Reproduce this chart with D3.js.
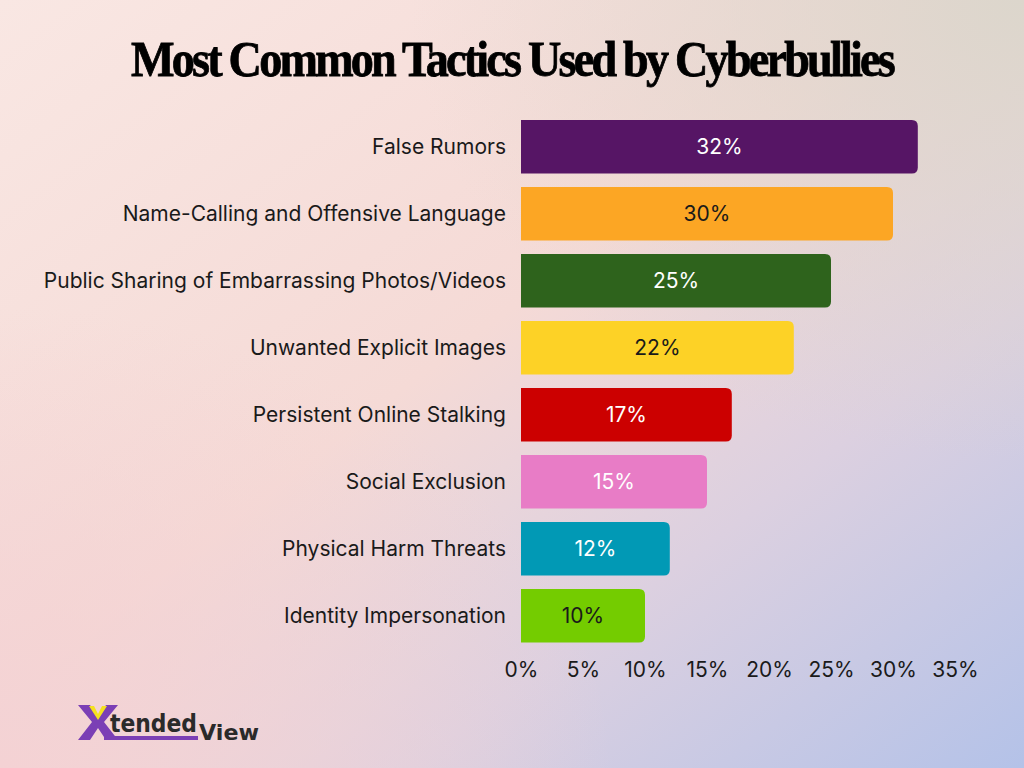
<!DOCTYPE html>
<html>
<head>
<meta charset="utf-8">
<script src="https://cdn.jsdelivr.net/npm/d3@7"></script>
<style>
  body { margin: 0; }
  svg { display: block; }
</style>
</head>
<body>
<div id="chart"></div>
<script>
// data
const tactics = [
  "False Rumors",
  "Name-Calling and Offensive Language",
  "Public Sharing of Embarrassing Photos/Videos",
  "Unwanted Explicit Images",
  "Persistent Online Stalking",
  "Social Exclusion",
  "Physical Harm Threats",
  "Identity Impersonation"
];
const shares = [32, 30, 25, 22, 17, 15, 12, 10];
const barColors = ["#561565", "#fca624", "#2e631c", "#fdd226", "#cc0000", "#e87cc6", "#0199b5", "#74cc00"];
const labelColors = ["#fff", "#1a1a1a", "#fff", "#1a1a1a", "#fff", "#fff", "#fff", "#1a1a1a"];
const ticks = [0, 5, 10, 15, 20, 25, 30, 35];

const W = 1024, H = 768;
const svg = d3.select("#chart").append("svg").attr("width", W).attr("height", H);

// background gradients
const defs = svg.append("defs");
const bg = defs.append("linearGradient").attr("id", "bg")
  .attr("x1", 0).attr("y1", 0).attr("x2", 1).attr("y2", 1);
bg.append("stop").attr("offset", 0).attr("stop-color", "#f9e7e3");
bg.append("stop").attr("offset", 0.45).attr("stop-color", "#f5dad6");
bg.append("stop").attr("offset", 0.7).attr("stop-color", "#dcd0e0");
bg.append("stop").attr("offset", 1).attr("stop-color", "#b4c2e8");
const tr = defs.append("radialGradient").attr("id", "tr")
  .attr("cx", 1).attr("cy", 0).attr("r", 0.6);
tr.append("stop").attr("offset", 0).attr("stop-color", "#dcd6cc").attr("stop-opacity", 1);
tr.append("stop").attr("offset", 1).attr("stop-color", "#dcd6cc").attr("stop-opacity", 0);
const bl = defs.append("radialGradient").attr("id", "bl")
  .attr("cx", 0).attr("cy", 1).attr("r", 0.6);
bl.append("stop").attr("offset", 0).attr("stop-color", "#f4d2d4").attr("stop-opacity", 1);
bl.append("stop").attr("offset", 1).attr("stop-color", "#f4d2d4").attr("stop-opacity", 0);

svg.append("rect").attr("width", W).attr("height", H).attr("fill", "url(#bg)");
svg.append("rect").attr("width", W).attr("height", H).attr("fill", "url(#tr)");
svg.append("rect").attr("width", W).attr("height", H).attr("fill", "url(#bl)");

// title
svg.append("text")
  .attr("x", 512).attr("y", 76)
  .attr("text-anchor", "middle")
  .attr("font-family", "'Liberation Serif', 'DejaVu Serif', serif")
  .attr("font-weight", "bold")
  .attr("font-size", 50)
  .attr("letter-spacing", -3)
  .attr("textLength", 762)
  .attr("lengthAdjust", "spacingAndGlyphs")
  .attr("fill", "#000")
  .attr("stroke", "#000")
  .attr("stroke-width", 0.8)
  .text("Most Common Tactics Used by Cyberbullies");

// scales
const x = d3.scaleLinear().domain([0, 35]).range([521, 955]);
const y = d3.scaleBand().domain(tactics).range([113.3, 649.3])
  .paddingInner(0.2).paddingOuter(0.1);

const rows = tactics.map((t, i) => ({ name: t, value: shares[i], color: barColors[i], lab: labelColors[i] }));

// bar with rounded right end only
function barPath(d) {
  const x0 = x(0), x1 = x(d.value), y0 = y(d.name), h = y.bandwidth(), r = 6;
  return `M${x0},${y0} H${x1 - r} Q${x1},${y0} ${x1},${y0 + r} V${y0 + h - r} Q${x1},${y0 + h} ${x1 - r},${y0 + h} H${x0} Z`;
}

const g = svg.append("g");
g.selectAll("path.bar").data(rows).enter().append("path")
  .attr("class", "bar")
  .attr("d", barPath)
  .attr("fill", d => d.color);

g.selectAll("text.val").data(rows).enter().append("text")
  .attr("class", "val")
  .attr("x", d => (x(0) + x(d.value)) / 2)
  .attr("y", d => y(d.name) + y.bandwidth() / 2)
  .attr("dy", "0.36em")
  .attr("text-anchor", "middle")
  .attr("font-family", "Inter, sans-serif")
  .attr("font-size", 21)
  .attr("fill", d => d.lab)
  .text(d => d.value + "%");

// category labels
const yAxis = svg.append("g")
  .attr("transform", "translate(521,0)")
  .call(d3.axisLeft(y).tickSize(0).tickPadding(15));
yAxis.select(".domain").remove();
yAxis.selectAll("text")
  .attr("font-family", "Inter, sans-serif")
  .attr("font-size", 21)
  .attr("fill", "#1a1a1a");

// value axis
const xAxis = svg.append("g")
  .attr("transform", "translate(0,649)")
  .call(d3.axisBottom(x).tickValues(ticks).tickFormat(d => d + "%").tickSize(0).tickPadding(13));
xAxis.select(".domain").remove();
xAxis.selectAll("text")
  .attr("font-family", "Inter, sans-serif")
  .attr("font-size", 21)
  .attr("fill", "#1a1a1a");

// logo
const logo = svg.append("g").attr("transform", "translate(78,705)");
logo.append("path")
  .attr("d", "M0,0 H12 L20,12 L28,0 H40 L26,17 L40,35 H28 L20,23 L12,35 H0 L14,17 Z")
  .attr("fill", "#7b3fb5");
logo.append("path")
  .attr("d", "M11,1 H16 L20,9 L24,1 H29 L20,15 Z")
  .attr("fill", "#f4e11f");
logo.append("rect")
  .attr("x", 26).attr("y", 31).attr("width", 94).attr("height", 4)
  .attr("fill", "#7b3fb5");
logo.append("text")
  .attr("x", 32).attr("y", 27)
  .attr("font-family", "'DejaVu Sans', sans-serif")
  .attr("font-weight", "bold")
  .attr("font-size", 24)
  .attr("textLength", 87)
  .attr("lengthAdjust", "spacingAndGlyphs")
  .attr("fill", "#2a2a2a")
  .text("tended");
logo.append("text")
  .attr("x", 121).attr("y", 35)
  .attr("font-family", "'DejaVu Sans', sans-serif")
  .attr("font-weight", "bold")
  .attr("font-size", 22)
  .attr("textLength", 60)
  .attr("lengthAdjust", "spacingAndGlyphs")
  .attr("fill", "#2a2a2a")
  .text("View");
</script>
</body>
</html>
